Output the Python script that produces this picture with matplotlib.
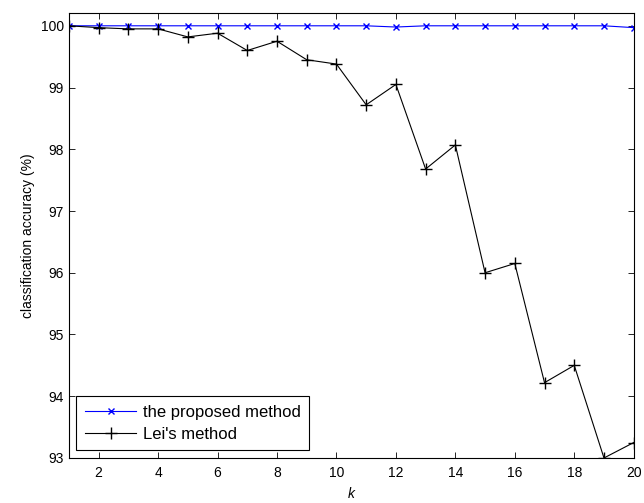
import matplotlib
import matplotlib.pyplot as plt
import numpy as np

matplotlib.use("Agg")

k = np.arange(1, 21)
proposed = [100, 100, 100, 100, 100, 100, 100, 100, 100, 100,
            100, 99.98, 100, 100, 100, 100, 100, 100, 100, 99.97]
lei = [100, 99.97, 99.95, 99.95, 99.82, 99.88, 99.6, 99.75, 99.45, 99.38,
       98.72, 99.05, 97.68, 98.07, 96.0, 96.15, 94.22, 94.5, 93.0, 93.25]

plt.rcParams.update({
    "font.family": ["Liberation Sans", "DejaVu Sans"],
    "font.size": 10,
})

fig = plt.figure(figsize=(6.44, 5.03), dpi=100)
ax = fig.add_axes([0.107, 0.0895, 0.877, 0.885])

ax.plot(k, proposed, color="blue", marker="x", markersize=5, linewidth=0.8,
        label="the proposed method")
ax.plot(k, lei, color="black", marker="+", markersize=8, linewidth=0.8,
        label="Lei's method")

ax.set_xlim(1, 20)
ax.set_ylim(93, 100.21)
ax.set_xticks(np.arange(2, 21, 2))
ax.set_yticks(np.arange(93, 101, 1))
ax.tick_params(direction="in", top=True, right=True, length=4, width=0.6)
ax.tick_params(axis="x", pad=6)
for s in ax.spines.values():
    s.set_linewidth(0.8)

ax.set_xlabel("k", style="italic", labelpad=5)
ax.set_ylabel("classification accuracy (%)")

leg = ax.legend(loc="lower left", fancybox=False, edgecolor="black",
                framealpha=1, borderaxespad=0.45, fontsize=12,
                handlelength=3.1, handletextpad=0.4, labelspacing=0.45,
                borderpad=0.5)
leg.get_frame().set_linewidth(0.8)

fig.savefig("out.png", dpi=100)
